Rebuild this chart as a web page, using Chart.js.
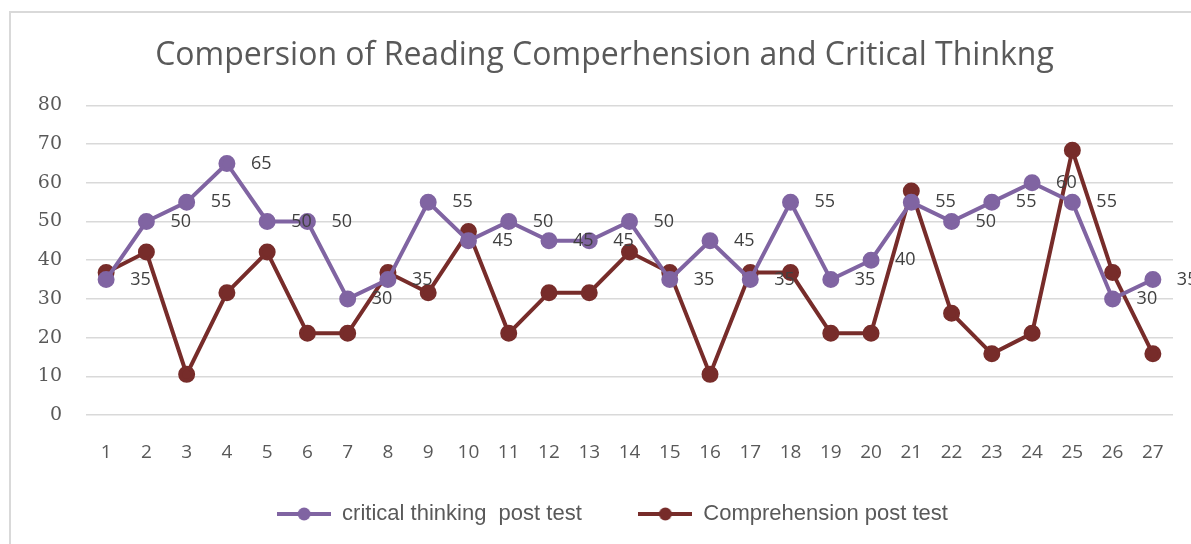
<!DOCTYPE html>
<html>
<head>
<meta charset="utf-8">
<script src="https://cdn.jsdelivr.net/npm/chart.js@4"></script>
<style>
  body { margin: 0; background: #fff; }
  #frame { position: absolute; left: 9px; top: 11px; width: 1200px; height: 560px; border: 2px solid #d9d9d9; }
  #wrap { position: absolute; left: 0; top: 0; width: 1191px; height: 544px; }
</style>
</head>
<body>
<div id="frame"></div>
<div id="wrap"><canvas id="lineChart"></canvas></div>
<script>
// categories and series
var students = ["1","2","3","4","5","6","7","8","9","10","11","12","13","14","15","16","17","18","19","20","21","22","23","24","25","26","27"];
var criticalThinking = [35, 50, 55, 65, 50, 50, 30, 35, 55, 45, 50, 45, 45, 50, 35, 45, 35, 55, 35, 40, 55, 50, 55, 60, 55, 30, 35];
var comprehension = [36.8, 42.1, 10.5, 31.6, 42.1, 21.1, 21.1, 36.8, 31.6, 47.4, 21.1, 31.6, 31.6, 42.1, 36.8, 10.5, 36.8, 36.8, 21.1, 21.1, 57.9, 26.3, 15.8, 21.1, 68.4, 36.8, 15.8];
var yTicks = [0, 10, 20, 30, 40, 50, 60, 70, 80];

var purple = '#8064a2';
var darkRed = '#772c2a';
var textGrey = '#595959';

// legend marker: a short line with a dot on it
function legendMarker(color) {
    var c = document.createElement('canvas');
    c.width = 54; c.height = 14;
    var g = c.getContext('2d');
    g.strokeStyle = color; g.lineWidth = 4;
    g.beginPath(); g.moveTo(0, 7); g.lineTo(54, 7); g.stroke();
    g.fillStyle = color;
    g.beginPath(); g.arc(27, 7, 6.5, 0, Math.PI * 2); g.fill();
    return c;
}

// value labels to the right of the purple points
var valueLabels = {
    id: 'valueLabels',
    afterDatasetsDraw: function(chart) {
        var ctx = chart.ctx;
        var meta = chart.getDatasetMeta(0);
        ctx.save();
        ctx.font = '18px "Open Sans", sans-serif';
        ctx.fillStyle = '#404040';
        ctx.textAlign = 'left';
        ctx.textBaseline = 'middle';
        meta.data.forEach(function(pt, i) {
            ctx.fillText(String(criticalThinking[i]), pt.x + 24, pt.y);
        });
        ctx.restore();
    }
};

// nudge title and legend a little to the right, like the original
var blockShift = {
    id: 'blockShift',
    afterLayout: function(chart) {
        chart.legend.left += 26;
        chart.legend.right += 26;
        chart.titleBlock.left += 18;
        chart.titleBlock.right += 18;
    }
};

var ctx = document.getElementById('lineChart').getContext('2d');
var chart = new Chart(ctx, {
    type: 'line',
    data: {
        labels: students,
        datasets: [{
            label: 'critical thinking  post test',
            data: criticalThinking,
            borderColor: purple,
            backgroundColor: purple,
            borderWidth: 4,
            pointRadius: 6.5,
            pointHoverRadius: 6.5,
            tension: 0
        }, {
            label: 'Comprehension post test',
            data: comprehension,
            borderColor: darkRed,
            backgroundColor: darkRed,
            borderWidth: 4,
            pointRadius: 6.5,
            pointHoverRadius: 6.5,
            tension: 0
        }]
    },
    options: {
        responsive: true,
        maintainAspectRatio: false,
        animation: false,
        layout: { padding: { left: 0, right: 18, top: 37, bottom: 9 } },
        plugins: {
            title: {
                display: true,
                text: 'Compersion of Reading Comperhension and Critical Thinkng',
                color: textGrey,
                font: { family: '"Open Sans", sans-serif', size: 32, weight: 'normal' },
                padding: { top: 0, bottom: 30 }
            },
            legend: {
                position: 'bottom',
                labels: {
                    color: textGrey,
                    font: { family: '"Liberation Sans", sans-serif', size: 22 },
                    usePointStyle: true,
                    pointStyleWidth: 54,
                    padding: 26,
                    generateLabels: function(chart) {
                        return chart.data.datasets.map(function(ds, i) {
                            return {
                                text: i === 0 ? ds.label + '     ' : ds.label,
                                fontColor: textGrey,
                                pointStyle: legendMarker(ds.borderColor),
                                datasetIndex: i,
                                lineWidth: 0,
                                strokeStyle: 'transparent',
                                fillStyle: ds.borderColor
                            };
                        });
                    }
                }
            },
            tooltip: { enabled: false }
        },
        scales: {
            x: {
                offset: true,
                grid: { display: false, drawTicks: false },
                border: { display: false },
                ticks: {
                    color: textGrey,
                    padding: 26,
                    maxRotation: 0,
                    autoSkip: false,
                    font: { family: '"Open Sans", sans-serif', size: 19 }
                },
                afterFit: function(scale) { scale.height = 62; }
            },
            y: {
                min: 0,
                max: 80,
                afterBuildTicks: function(scale) {
                    scale.ticks = yTicks.map(function(v) { return { value: v }; });
                },
                grid: { color: '#d9d9d9', lineWidth: 1.5, drawTicks: false },
                border: { display: false },
                ticks: {
                    color: textGrey,
                    padding: 24,
                    font: { family: '"DejaVu Serif", serif', size: 19 }
                },
                afterFit: function(scale) { scale.width = 86; }
            }
        }
    },
    plugins: [valueLabels, blockShift]
});
</script>
</body>
</html>
